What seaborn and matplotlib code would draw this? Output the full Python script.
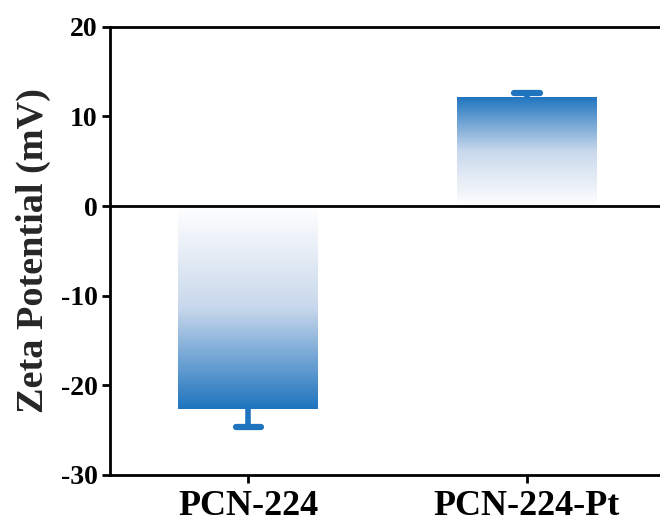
import numpy as np
import pandas as pd
import matplotlib
matplotlib.use("Agg")
import matplotlib.pyplot as plt
import seaborn as sns
from matplotlib.colors import LinearSegmentedColormap

categories = ["PCN-224", "PCN-224-Pt"]
values = [-22.6, 12.2]
errors = [2.0, 0.4]
yticks = [-30, -20, -10, 0, 10, 20]

sns.set_theme(style="ticks")
plt.rcParams["font.family"] = ["Liberation Serif", "DejaVu Serif"]
plt.rcParams["font.weight"] = "bold"

fig = plt.figure(figsize=(6.6, 5.26), dpi=100)
ax = fig.add_axes([0.1667, 0.097, 0.8333, 0.852])

df = pd.DataFrame({"cat": categories, "val": values})
sns.barplot(data=df, x="cat", y="val", ax=ax, width=0.5, color="#1E74BE", errorbar=None)

blue = "#1E74BE"
cmap = LinearSegmentedColormap.from_list("g", ["#ffffff", "#c9d8ec", blue])
grad = np.linspace(0, 1, 256).reshape(-1, 1)
for p, v in zip(ax.patches, values):
    x0, w = p.get_x(), p.get_width()
    y0, h = p.get_y(), p.get_height()
    p.set_facecolor("none")
    p.set_edgecolor("none")
    ylo, yhi = min(y0, y0 + h), max(y0, y0 + h)
    img = grad if v > 0 else grad[::-1]
    im = ax.imshow(img, cmap=cmap, extent=[x0, x0 + w, ylo, yhi], origin="lower",
                   aspect="auto", zorder=2, interpolation="bicubic")
    im.set_clip_path(p)

for i, (v, e) in enumerate(zip(values, errors)):
    sgn = 1 if v > 0 else -1
    ax.plot([i, i], [v, v + sgn * e], color=blue, lw=4, solid_capstyle="butt", zorder=3)
    ax.plot([i - 0.045, i + 0.045], [v + sgn * e, v + sgn * e], color=blue, lw=4.5,
            solid_capstyle="round", zorder=3)

ax.axhline(0, color="black", lw=2, zorder=4)
ax.set_xlim(-0.495, 1.477)
ax.set_ylim(-30, 20)
ax.set_yticks(yticks)
ax.set_yticklabels([str(t) for t in yticks])
ax.set_xlabel("")
ax.set_ylabel("Zeta Potential (mV)", fontsize=27.5, fontweight="bold", labelpad=7)

for s in ["left", "bottom", "top"]:
    ax.spines[s].set_linewidth(2)
    ax.spines[s].set_color("black")
ax.spines["right"].set_visible(False)
ax.tick_params(axis="y", labelsize=20, width=2, length=6, direction="out", colors="black", pad=3)
ax.tick_params(axis="x", labelsize=26, width=2, length=6, direction="out", colors="black", pad=5)
for lab in ax.get_xticklabels() + ax.get_yticklabels():
    lab.set_fontweight("bold")

fig.savefig("out.png", dpi=100, facecolor="white")
